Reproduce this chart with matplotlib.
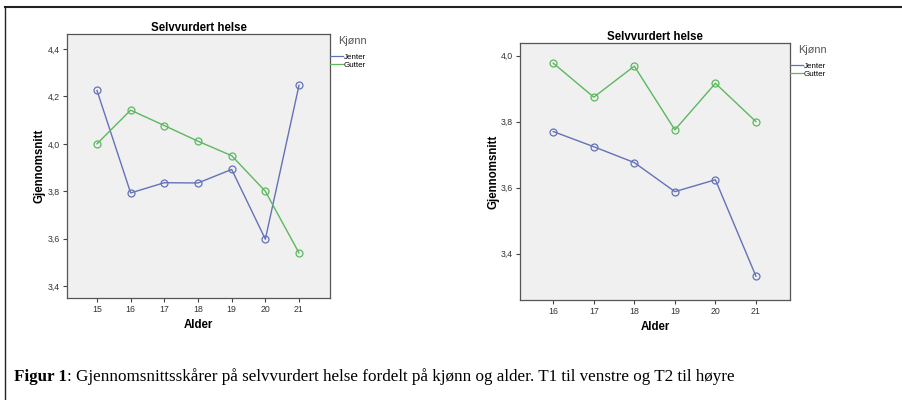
import matplotlib
matplotlib.use("Agg")
import matplotlib.pyplot as plt
from matplotlib.lines import Line2D
from matplotlib.ticker import FuncFormatter

# T1 (left panel)
ages_t1 = [15, 16, 17, 18, 19, 20, 21]
jenter_t1 = [4.225, 3.793, 3.836, 3.835, 3.892, 3.598, 4.247]
gutter_t1 = [4.000, 4.142, 4.077, 4.011, 3.950, 3.800, 3.540]

# T2 (right panel)
ages_t2 = [16, 17, 18, 19, 20, 21]
jenter_t2 = [3.770, 3.724, 3.676, 3.588, 3.624, 3.332]
gutter_t2 = [3.977, 3.874, 3.968, 3.775, 3.916, 3.800]

yticks_t1 = [3.4, 3.6, 3.8, 4.0, 4.2, 4.4]
yticks_t2 = [3.4, 3.6, 3.8, 4.0]

blue = "#6472b8"
green = "#5cb85f"
sans = "Liberation Sans"

fig = plt.figure(figsize=(9.02, 4.0), dpi=100)
fig.patch.set_facecolor("white")

comma = FuncFormatter(lambda v, p: f"{v:.1f}".replace(".", ","))


def draw(ax, ages, jenter, gutter, yticks, xlim, ylim, ylabelpad):
    ax.set_facecolor("#f0f0f0")
    ax.plot(ages, jenter, color=blue, lw=1, marker="o", ms=5,
            mfc="none", mec=blue, mew=0.9)
    ax.plot(ages, gutter, color=green, lw=1, marker="o", ms=5,
            mfc="none", mec=green, mew=0.9)
    ax.set_xlim(*xlim)
    ax.set_ylim(*ylim)
    ax.set_xticks(ages)
    ax.set_yticks(yticks)
    ax.yaxis.set_major_formatter(comma)
    ax.tick_params(labelsize=6.3, length=3, width=0.8, color="#444444",
                   labelcolor="#333333", pad=2)
    for lab in ax.get_xticklabels() + ax.get_yticklabels():
        lab.set_family(sans)
    for s in ax.spines.values():
        s.set_color("#555555")
        s.set_linewidth(0.9)
    ax.set_title("Selvvurdert helse", fontsize=8.3, fontweight="bold",
                 family=sans, pad=2)
    ax.set_xlabel("Alder", fontsize=8.3, fontweight="bold", family=sans,
                  labelpad=4)
    ax.set_ylabel("Gjennomsnitt", fontsize=8.3, fontweight="bold",
                  family=sans, labelpad=ylabelpad)
    handles = [Line2D([], [], color=blue, lw=0.9),
               Line2D([], [], color=green, lw=0.9)]
    leg = ax.legend(handles, ["Jenter", "Gutter"], loc="upper left",
                    bbox_to_anchor=(1.0, 0.985), frameon=False,
                    title="Kjønn", handlelength=1.6, handletextpad=0.15,
                    borderaxespad=0, borderpad=0, labelspacing=0.05,
                    prop={"family": sans, "size": 5.8})
    leg.get_title().set_fontsize(7.8)
    leg.get_title().set_family(sans)
    leg.get_title().set_color("#555555")
    leg.get_title().set_position((8, 2))
    leg._legend_box.align = "left"
    leg._legend_box.sep = 4


ax1 = fig.add_axes([67 / 902, 102 / 400, 263 / 902, 264 / 400])
draw(ax1, ages_t1, jenter_t1, gutter_t1, yticks_t1, (14.11, 21.92), (3.35, 4.463), 2)

ax2 = fig.add_axes([520 / 902, 100 / 400, 270 / 902, 257 / 400])
draw(ax2, ages_t2, jenter_t2, gutter_t2, yticks_t2, (15.18, 21.84), (3.26, 4.038), 1)

# page border (top and left)
fig.add_artist(Line2D([5 / 902, 1.0], [393 / 400, 393 / 400], color="#222222", lw=1.5))
fig.add_artist(Line2D([5 / 902, 5 / 902], [0, 393 / 400], color="#222222", lw=1.0))

# caption: bold label followed by regular text
cap_size = 12.25
t1 = fig.text(14 / 902, 23 / 400, "Figur 1", fontsize=cap_size, fontweight="bold",
              family="Liberation Serif", va="center")
fig.canvas.draw()
bb = t1.get_window_extent()
fig.text(bb.x1 / fig.bbox.width, 23 / 400,
         ": Gjennomsnittsskårer på selvvurdert helse fordelt på kjønn og alder. T1 til venstre og T2 til høyre",
         fontsize=cap_size, family="Liberation Serif", va="center")

fig.savefig("out.png", dpi=100)
